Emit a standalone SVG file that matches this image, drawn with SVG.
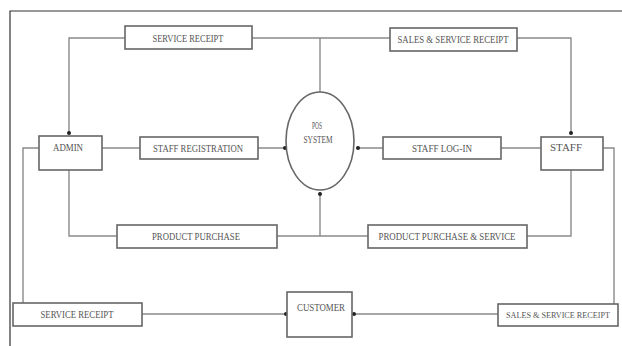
<svg xmlns="http://www.w3.org/2000/svg" width="622" height="346" viewBox="0 0 622 346">
<style>
.frame{stroke:#333;stroke-width:1.2;fill:none}
.ln{stroke:#8a8a8a;stroke-width:1.4;fill:none}
.box{fill:#fff;stroke:#666;stroke-width:1.6}
.t{font-family:"Liberation Serif",serif;font-size:10px;fill:#555;text-anchor:middle;dominant-baseline:central}
.s{font-size:8.5px}
.dot{fill:#222}
</style>
<rect width="622" height="346" fill="#fff"/>
<path class="frame" d="M10,346 V11 H622"/>
<g id="connectors">
<path class="ln" d="M69,133 V38 H571 V133"/>
<path class="ln" d="M320,38 V92"/>
<path class="ln" d="M102,148 H285"/>
<path class="ln" d="M541,148 H358"/>
<path class="ln" d="M69,170 V236 H571 V170"/>
<path class="ln" d="M320,236 V192"/>
<path class="ln" d="M39,148 H23 V303"/>
<path class="ln" d="M603,148 H614 V305"/>
<path class="ln" d="M142,314 H286"/>
<path class="ln" d="M498,314 H353"/>
<circle class="dot" cx="69" cy="133" r="2"/>
<circle class="dot" cx="571" cy="133" r="2"/>
<circle class="dot" cx="285" cy="148" r="2"/>
<circle class="dot" cx="358" cy="148" r="2"/>
<circle class="dot" cx="320" cy="194" r="2"/>
<circle class="dot" cx="286" cy="314" r="2"/>
<circle class="dot" cx="354" cy="314" r="2"/>
</g>
<g id="service-receipt-top"><rect class="box" x="125" y="26" width="127" height="23"/><text class="t" x="188" y="38" textLength="71" lengthAdjust="spacingAndGlyphs">SERVICE RECEIPT</text></g>
<g id="sales-service-receipt-top"><rect class="box" x="390" y="28" width="127" height="23"/><text class="t" x="453" y="39" textLength="111" lengthAdjust="spacingAndGlyphs">SALES &amp; SERVICE RECEIPT</text></g>
<g id="admin"><rect class="box" x="39" y="136" width="63" height="34"/><text class="t" x="68" y="147" textLength="30" lengthAdjust="spacingAndGlyphs">ADMIN</text></g>
<g id="staff-registration"><rect class="box" x="140" y="137" width="118" height="22"/><text class="t" x="198" y="148" textLength="90" lengthAdjust="spacingAndGlyphs">STAFF REGISTRATION</text></g>
<g id="pos-system"><ellipse class="box" cx="320" cy="141" rx="34" ry="49"/><text class="t" x="317" y="125" textLength="10" lengthAdjust="spacingAndGlyphs">POS</text><text class="t" x="318" y="139" textLength="29" lengthAdjust="spacingAndGlyphs">SYSTEM</text></g>
<g id="staff-login"><rect class="box" x="383" y="137" width="118" height="22"/><text class="t" x="442" y="148" textLength="60" lengthAdjust="spacingAndGlyphs">STAFF LOG-IN</text></g>
<g id="staff"><rect class="box" x="541" y="137" width="62" height="33"/><text class="t" x="566" y="147" textLength="32" lengthAdjust="spacingAndGlyphs">STAFF</text></g>
<g id="product-purchase"><rect class="box" x="117" y="225" width="160" height="23"/><text class="t" x="196" y="236" textLength="88" lengthAdjust="spacingAndGlyphs">PRODUCT PURCHASE</text></g>
<g id="product-purchase-service"><rect class="box" x="368" y="225" width="159" height="23"/><text class="t" x="447" y="236" textLength="137" lengthAdjust="spacingAndGlyphs">PRODUCT PURCHASE &amp; SERVICE</text></g>
<g id="service-receipt-bottom"><rect class="box" x="13" y="303" width="129" height="23"/><text class="t" x="77" y="314" textLength="73" lengthAdjust="spacingAndGlyphs">SERVICE RECEIPT</text></g>
<g id="customer"><rect class="box" x="287" y="292" width="65" height="45"/><text class="t" x="321" y="307" textLength="48" lengthAdjust="spacingAndGlyphs">CUSTOMER</text></g>
<g id="sales-service-receipt-bottom"><rect class="box" x="498" y="304" width="120" height="22"/><text class="t s" x="558" y="315" textLength="104" lengthAdjust="spacingAndGlyphs">SALES &amp; SERVICE RECEIPT</text></g>
</svg>
